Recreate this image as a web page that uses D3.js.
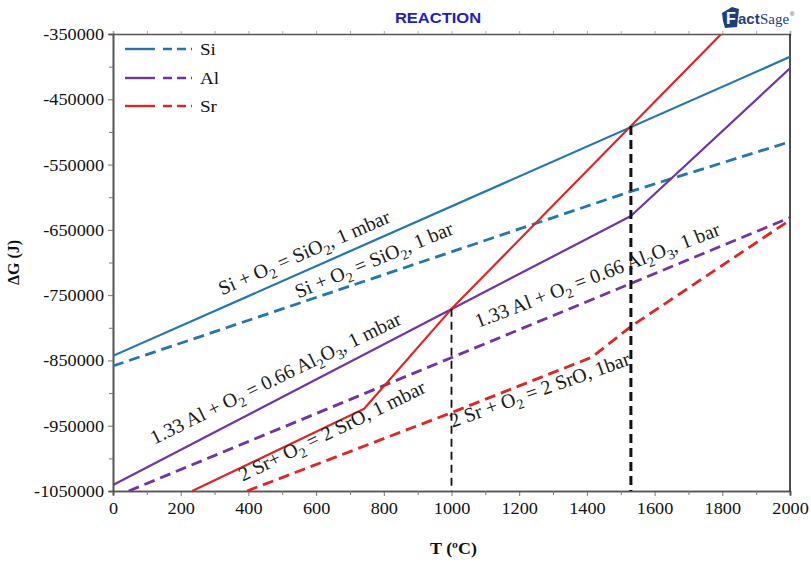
<!DOCTYPE html>
<html>
<head>
<meta charset="utf-8">
<script src="https://cdn.jsdelivr.net/npm/d3@7"></script>
<style>
  body { margin: 0; background: #fff; }
  text { white-space: pre; }
</style>
</head>
<body>
<svg id="chart" width="811" height="563"></svg>
<script>
// ---- data: standard Gibbs energy of oxidation, ΔG (J) vs T (°C) ----
const xTicks = [0, 200, 400, 600, 800, 1000, 1200, 1400, 1600, 1800, 2000];
const xMinorTicks = [100, 300, 500, 700, 900, 1100, 1300, 1500, 1700, 1900];
const yTicks = [-350000, -450000, -550000, -650000, -750000, -850000, -950000, -1050000];
const yMinorTicks = [-400000, -500000, -600000, -700000, -800000, -900000, -1000000];

const legendNames = ["Si", "Al", "Sr"];

// [T, ΔG] points for each reaction (solid = 1 mbar, dashed = 1 bar)
const siMbar = [[0, -843000], [2000, -385000]];
const siBar  = [[0, -858500], [1530, -591000], [2000, -515000]];
const alMbar = [[0, -1040800], [1530, -628800], [2000, -402500]];
const alBar  = [[0, -1060000], [2000, -631300]];
const srMbar = [[234, -1050000], [742, -924000], [1000, -771000], [1530, -491000], [1797, -350000]];
const srBar  = [[396, -1050000], [995, -931000], [1415, -845000], [1530, -798000], [2000, -635000]];

// vertical guides at the characteristic temperatures
const refT    = [1000, 1530];
const refTopG = [-771000, -491000];

// reaction labels: [text, subscript?] runs
const labelSi1 = [["Si + O", 0], ["2", 1], [" = SiO", 0], ["2", 1], [", 1 mbar", 0]];
const labelSi2 = [["Si + O", 0], ["2", 1], [" = SiO", 0], ["2", 1], [", 1 bar", 0]];
const labelAl1 = [["1.33 Al + O", 0], ["2", 1], [" = 0.66 Al", 0], ["2", 1], ["O", 0], ["3", 1], [", 1 mbar", 0]];
const labelAl2 = [["1.33 Al + O", 0], ["2", 1], [" = 0.66 Al", 0], ["2", 1], ["O", 0], ["3", 1], [", 1 bar", 0]];
const labelSr1 = [["2 Sr+ O", 0], ["2", 1], [" = 2 SrO, 1 mbar", 0]];
const labelSr2 = [["2 Sr + O", 0], ["2", 1], [" = 2 SrO, 1bar", 0]];

// ---- layout & style ----
const W = 811, H = 563;
const m = { left: 113, right: 21, top: 34, bottom: 72 };
const colors = { Si: "#2377ad", Al: "#7234a2", Sr: "#df2626" };
const serif = "'Liberation Serif', 'Times New Roman', serif";
const sans = "'Liberation Sans', Arial, sans-serif";

const svg = d3.select("#chart");
const x = d3.scaleLinear().domain([0, 2000]).range([m.left, W - m.right]);
const y = d3.scaleLinear().domain([-1050000, -350000]).range([H - m.bottom, m.top]);

svg.append("defs").append("clipPath").attr("id", "plotClip")
  .append("rect")
  .attr("x", x(0)).attr("y", y(-350000))
  .attr("width", x(2000) - x(0)).attr("height", y(-1050000) - y(-350000));

// widen text horizontally a little (the chart is drawn with wide glyphs)
function widen(sel, k) {
  sel.each(function () {
    const w = this.getComputedTextLength();
    d3.select(this).attr("textLength", w * k).attr("lengthAdjust", "spacingAndGlyphs");
  });
}

// ---- axes ----
const axisColor = "#555";
const gx = svg.append("g").attr("transform", `translate(0,${y(-1050000)})`)
  .call(d3.axisBottom(x).tickValues(xTicks).tickSize(5).tickPadding(7).tickFormat(d => String(d)));
const gxm = svg.append("g").attr("transform", `translate(0,${y(-1050000)})`)
  .call(d3.axisBottom(x).tickValues(xMinorTicks).tickSize(4).tickFormat(""));
const gxt = svg.append("g").attr("transform", `translate(0,${y(-350000)})`)
  .call(d3.axisTop(x).tickValues(xTicks.concat(xMinorTicks)).tickSize(3).tickFormat(""));
const gy = svg.append("g").attr("transform", `translate(${x(0)},0)`)
  .call(d3.axisLeft(y).tickValues(yTicks).tickSize(5).tickPadding(4).tickFormat(d => String(d)));
const gym = svg.append("g").attr("transform", `translate(${x(0)},0)`)
  .call(d3.axisLeft(y).tickValues(yMinorTicks).tickSize(4).tickFormat(""));

[gx, gxm, gy, gym].forEach(g => {
  g.selectAll(".domain").attr("stroke", axisColor).attr("stroke-width", 1.6);
  g.selectAll(".tick line").attr("stroke", "#777").attr("stroke-width", 1);
});
gxt.selectAll(".domain").attr("stroke", axisColor).attr("stroke-width", 1.4);
gxt.selectAll(".tick line").attr("stroke", "#aaa").attr("stroke-width", 1);
svg.append("line")
  .attr("x1", x(2000)).attr("x2", x(2000)).attr("y1", y(-350000)).attr("y2", y(-1050000))
  .attr("stroke", "#222").attr("stroke-width", 1.6);

gx.selectAll(".tick text").attr("font-family", serif).attr("font-size", 16).attr("fill", "#111")
  .call(widen, 1.14);
gy.selectAll(".tick text").attr("font-family", serif).attr("font-size", 16).attr("fill", "#111")
  .attr("dy", "0.34em").call(widen, 1.14);

// axis titles
svg.append("text")
  .attr("x", (x(0) + x(2000)) / 2 + 2).attr("y", 554)
  .attr("text-anchor", "middle").attr("font-family", serif).attr("font-weight", "bold")
  .attr("font-size", 16).attr("fill", "#111").text("T (ºC)").call(widen, 1.12);
svg.append("text")
  .attr("transform", `translate(19,${(y(-350000) + y(-1050000)) / 2}) rotate(-90)`)
  .attr("text-anchor", "middle").attr("font-family", serif).attr("font-weight", "bold")
  .attr("font-size", 16).attr("fill", "#111").text("ΔG (J)");

// title
svg.append("text")
  .attr("x", 438).attr("y", 23).attr("text-anchor", "middle")
  .attr("font-family", sans).attr("font-weight", "bold").attr("font-size", 15)
  .attr("fill", "#1e1ec4").text("REACTION").call(widen, 1.1);

// FactSage mark
const logo = svg.append("g").attr("transform", "translate(720,6)");
logo.append("path")
  .attr("d", "M2,7 L12,1 L19,3 L17,21 L5,22 L3,15 Z")
  .attr("fill", "#1d3f7c");
logo.append("text").attr("x", 6).attr("y", 18)
  .attr("font-family", sans).attr("font-weight", "bold").attr("font-size", 16)
  .attr("fill", "#fff").text("F");
logo.append("text").attr("x", 18).attr("y", 18)
  .attr("font-family", sans).attr("font-weight", "bold").attr("font-size", 15)
  .attr("fill", "#1d3f7c").text("act");
logo.append("text").attr("x", 40).attr("y", 18)
  .attr("font-family", serif).attr("font-size", 15)
  .attr("fill", "#1d3f7c").text("Sage");
logo.append("text").attr("x", 70).attr("y", 10)
  .attr("font-family", sans).attr("font-size", 6)
  .attr("fill", "#1d3f7c").text("®");

// ---- reaction lines ----
const line = d3.line().x(d => x(d[0])).y(d => y(d[1]));
const plot = svg.append("g").attr("clip-path", "url(#plotClip)");
const lineSpecs = [
  { data: siMbar, color: colors.Si, dashed: false },
  { data: siBar,  color: colors.Si, dashed: true },
  { data: alMbar, color: colors.Al, dashed: false },
  { data: alBar,  color: colors.Al, dashed: true },
  { data: srMbar, color: colors.Sr, dashed: false },
  { data: srBar,  color: colors.Sr, dashed: true }
];
plot.selectAll("path.rx").data(lineSpecs).join("path")
  .attr("class", "rx")
  .attr("d", d => line(d.data))
  .attr("fill", "none")
  .attr("stroke", d => d.color)
  .attr("stroke-width", d => d.dashed ? 2.8 : 2.2)
  .attr("stroke-dasharray", d => d.dashed ? "11,6" : null)
  .attr("stroke-linejoin", "round");

// vertical guide lines
plot.selectAll("line.ref").data(refT).join("line")
  .attr("class", "ref")
  .attr("x1", d => x(d)).attr("x2", d => x(d))
  .attr("y1", (d, i) => y(refTopG[i])).attr("y2", y(-1050000))
  .attr("stroke", "#111")
  .attr("stroke-width", (d, i) => i === 0 ? 1.8 : 3)
  .attr("stroke-dasharray", (d, i) => i === 0 ? "8,5" : "9,5");

// ---- reaction labels ----
const labelLayout = [
  { runs: labelSi1, T: 322,  G: -750500,  angle: -23.5 },
  { runs: labelSi2, T: 547,  G: -755000,  angle: -22.5 },
  { runs: labelAl1, T: 122,  G: -979000,  angle: -26 },
  { runs: labelAl2, T: 1078, G: -800500,  angle: -21 },
  { runs: labelSr1, T: 383,  G: -1036000, angle: -26 },
  { runs: labelSr2, T: 1003, G: -953000,  angle: -19.5 }
];
labelLayout.forEach(l => {
  const t = svg.append("text")
    .attr("transform", `translate(${x(l.T)},${y(l.G)}) rotate(${l.angle})`)
    .attr("font-family", serif).attr("font-size", 20).attr("fill", "#1a1a1a");
  let shifted = false;
  l.runs.forEach(([s, sub]) => {
    const ts = t.append("tspan").text(s);
    if (sub && !shifted) { ts.attr("dy", 5).attr("font-size", 14); shifted = true; }
    else if (sub) { ts.attr("font-size", 14); }
    else if (shifted) { ts.attr("dy", -5); shifted = false; }
  });
});

// ---- legend ----
const legendY = [49, 78, 106];
const legend = svg.append("g");
legendNames.forEach((name, i) => {
  const g = legend.append("g").attr("transform", `translate(0,${legendY[i]})`);
  g.append("line").attr("x1", 125).attr("x2", 155).attr("y1", 0).attr("y2", 0)
    .attr("stroke", colors[name]).attr("stroke-width", 2.4);
  g.append("line").attr("x1", 163).attr("x2", 192).attr("y1", 0).attr("y2", 0)
    .attr("stroke", colors[name]).attr("stroke-width", 2.4).attr("stroke-dasharray", "9,5");
  g.append("text").attr("x", 200).attr("y", 6)
    .attr("font-family", serif).attr("font-size", 17).attr("fill", "#111")
    .text(name).call(widen, 1.12);
});
</script>
</body>
</html>
